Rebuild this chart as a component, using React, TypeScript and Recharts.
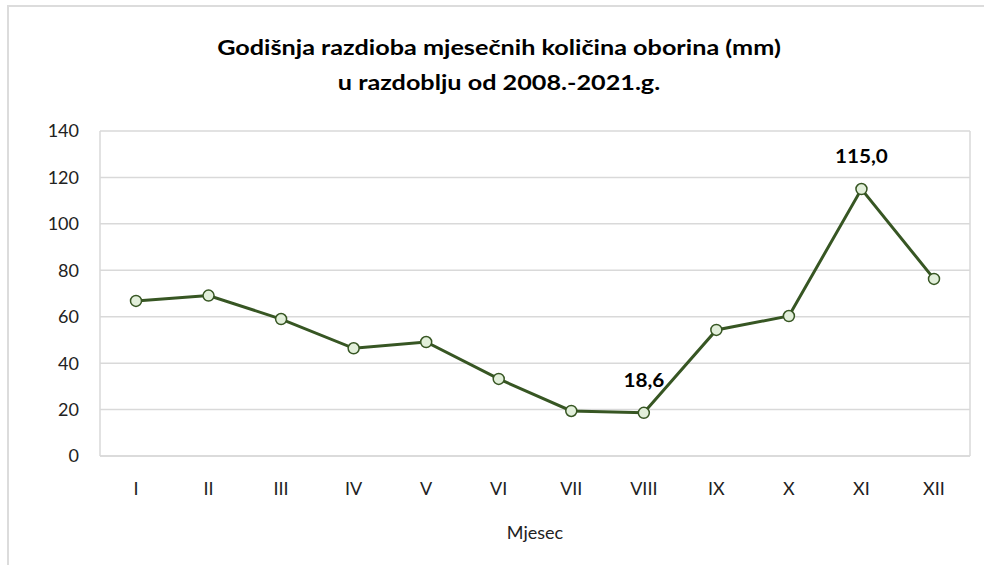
import React from 'react';
import { LineChart, Line, XAxis, YAxis, CartesianGrid, LabelList } from 'recharts';

// mjeseci (rimski brojevi) i srednje mjesečne količine oborina u mm
const months = ['I', 'II', 'III', 'IV', 'V', 'VI', 'VII', 'VIII', 'IX', 'X', 'XI', 'XII'];
const rainfall = [66.8, 69.1, 59.0, 46.4, 49.1, 33.2, 19.4, 18.6, 54.3, 60.3, 115.0, 76.3];
const yTicks = [0, 20, 40, 60, 80, 100, 120, 140];
// samo min i max imaju oznaku vrijednosti
const labelled = ['VIII', 'XI'];

const data = months.map((m, i) => ({ month: m, value: rainfall[i] }));

const FONT = 'Lato, Calibri, sans-serif';
const GRID = '#d9d9d9';
const LINE = '#375623';

const renderValue = (props: any) => {
  const { x, y, value, index } = props;
  if (!labelled.includes(months[index])) return null;
  return (
    <text
      x={x}
      y={y - 26}
      textAnchor="middle"
      fontFamily={FONT}
      fontSize={18}
      fontWeight={700}
      fill="#000"
      transform={`translate(${x} 0) scale(1.15 1) translate(${-x} 0)`}
    >
      {Number(value).toFixed(1).replace('.', ',')}
    </text>
  );
};

const App = () => {
  return (
    <div style={{ position: 'absolute', left: 0, top: 0, width: 984, height: 565, background: '#fff', overflow: 'hidden' }}>
      {/* okvir grafikona */}
      <div style={{ position: 'absolute', left: 7, top: 5, width: 990, height: 600, borderTop: '2px solid #dcdcdc', borderLeft: '2px solid #dcdcdc' }} />
      <div
        style={{
          position: 'absolute',
          left: 0,
          top: 30,
          width: 998,
          textAlign: 'center',
          fontFamily: FONT,
          fontWeight: 700,
          fontSize: 20,
          lineHeight: '35px',
          color: '#000',
          transform: 'scaleX(1.26)',
          transformOrigin: '499px 0',
        }}
      >
        Godišnja razdioba mjesečnih količina oborina (mm)
        <br />
        u razdoblju od 2008.-2021.g.
      </div>
      <div style={{ position: 'absolute', left: 0, top: 0 }}>
        <LineChart width={984} height={565} data={data} margin={{ top: 131, right: 0, bottom: 0, left: 0 }}>
          <CartesianGrid vertical={false} stroke={GRID} strokeWidth={1.5} />
          <XAxis
            dataKey="month"
            padding={{ left: 36, right: 36 }}
            tickLine={false}
            axisLine={{ stroke: GRID, strokeWidth: 1.5 }}
            tick={{ fontFamily: FONT, fontSize: 18, fill: '#222' }}
            tickMargin={20}
            height={109}
            label={{ value: 'Mjesec', position: 'insideBottom', offset: 26, fontFamily: FONT, fontSize: 18, fill: '#222' }}
          />
          <YAxis
            domain={[0, 140]}
            ticks={yTicks}
            width={100}
            tickLine={false}
            tickSize={0}
            tickMargin={21}
            axisLine={{ stroke: GRID, strokeWidth: 1.5 }}
            tick={{ fontFamily: FONT, fontSize: 18, fill: '#222' }}
          />
          <YAxis
            yAxisId="right"
            orientation="right"
            domain={[0, 140]}
            width={14}
            tick={false}
            tickLine={false}
            axisLine={{ stroke: GRID, strokeWidth: 1.5 }}
          />
          <Line
            type="linear"
            dataKey="value"
            stroke={LINE}
            strokeWidth={3}
            dot={{ r: 5.5, fill: '#e2efda', stroke: LINE, strokeWidth: 1.5 }}
            isAnimationActive={false}
          >
            <LabelList dataKey="value" content={renderValue} />
          </Line>
        </LineChart>
      </div>
    </div>
  );
};

export default App;
